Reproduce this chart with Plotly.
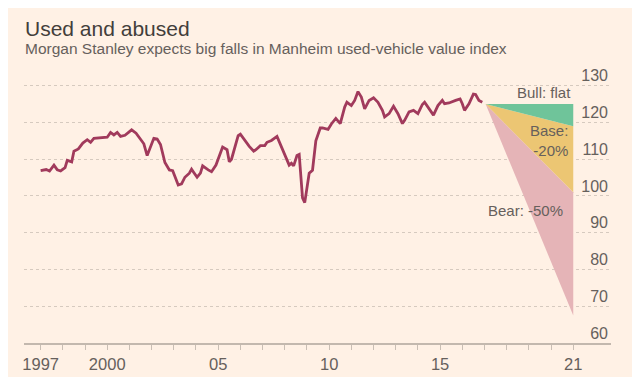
import plotly.graph_objects as go

# ---- data ----
index_years = [1997.0, 1997.25, 1997.4, 1997.6, 1997.75, 1997.9, 1998.1, 1998.2, 1998.4, 1998.5,
               1998.7, 1998.9, 1999.1, 1999.25, 1999.4, 1999.7, 2000.0, 2000.15, 2000.3, 2000.45,
               2000.6, 2000.8, 2001.1, 2001.3, 2001.55, 2001.65, 2001.8, 2001.95, 2002.1, 2002.25,
               2002.4, 2002.6, 2002.8, 2002.95, 2003.2, 2003.35, 2003.5, 2003.7, 2003.8, 2003.9,
               2004.05, 2004.2, 2004.3, 2004.55, 2004.7, 2004.9, 2005.2, 2005.4, 2005.5, 2005.6,
               2005.9, 2006.0, 2006.2, 2006.4, 2006.6, 2006.7, 2006.9, 2007.1, 2007.2, 2007.4,
               2007.65, 2007.8, 2008.0, 2008.2, 2008.3, 2008.4, 2008.55, 2008.65, 2008.8, 2008.9,
               2009.1, 2009.25, 2009.4, 2009.6, 2009.7, 2009.95, 2010.1, 2010.3, 2010.5, 2010.7,
               2010.8, 2011.0, 2011.15, 2011.3, 2011.45, 2011.6, 2011.8, 2012.0, 2012.2, 2012.4,
               2012.5, 2012.7, 2012.9, 2013.1, 2013.3, 2013.4, 2013.6, 2013.8, 2014.0, 2014.2,
               2014.3, 2014.5, 2014.7, 2014.9, 2015.1, 2015.2, 2015.4, 2015.7, 2015.9, 2016.0,
               2016.1, 2016.3, 2016.5, 2016.6, 2016.75, 2016.9]
index_values = [106.9, 107.2, 106.8, 108.4, 107.1, 106.8, 107.7, 109.7, 109.3, 112.2,
                112.8, 114.4, 115.3, 114.6, 115.7, 115.9, 116.0, 117.3, 116.6, 117.3,
                116.2, 116.5, 118.0, 117.1, 114.9, 114.2, 111.0, 113.1, 115.7, 115.5,
                114.0, 109.1, 107.1, 106.9, 103.0, 103.3, 105.1, 106.2, 107.3, 106.4,
                105.1, 106.2, 108.2, 107.1, 106.6, 108.4, 113.3, 112.6, 109.3, 110.0,
                116.4, 116.8, 115.1, 113.5, 112.2, 112.6, 113.7, 113.7, 114.6, 115.1,
                116.2, 114.0, 110.9, 108.4, 108.9, 108.2, 111.0, 111.3, 99.5, 98.2,
                106.2, 107.0, 115.0, 118.5, 118.5, 118.1, 119.6, 121.1, 119.7, 124.2,
                125.5, 124.6, 126.0, 128.4, 126.9, 123.7, 126.0, 126.7, 125.5, 123.3,
                121.5, 122.4, 124.4, 122.4, 119.7, 120.6, 122.9, 123.3, 122.4, 124.9,
                125.5, 123.7, 122.0, 124.6, 126.0, 125.1, 125.3, 126.0, 126.4, 125.1,
                123.3, 125.1, 127.7, 127.6, 126.0, 125.5]

# forecast fan: start point and end values (2021)
fan_start_year = 2017.05
fan_end_year = 2021
fan_start_value = 125.0
bull_end = [125.0, 119.0]      # top, bottom of bull wedge
base_end = [119.0, 101.0]
bear_end = [101.0, 67.5]

x_tick_years = list(range(1997, 2022))
x_tick_labels = {1997: "1997", 2000: "2000", 2005: "05", 2010: "10", 2015: "15", 2021: "21"}
y_ticks = [60, 70, 80, 90, 100, 110, 120, 130]

# ---- styling ----
BG = "#fff1e5"
TEXT = "#66605c"
FONT = "Liberation Sans, Arial, sans-serif"

fig = go.Figure()

def wedge(ends, color):
    xs = [fan_start_year, fan_end_year, fan_end_year, fan_start_year]
    ys = [fan_start_value, ends[0], ends[1], fan_start_value]
    fig.add_trace(go.Scatter(x=xs, y=ys, mode="lines", fill="toself", fillcolor=color,
                             line=dict(width=0, color=color), hoverinfo="skip", showlegend=False))

wedge(bear_end, "#e5b4b7")
wedge(base_end, "#ecc673")
wedge(bull_end, "#6fc49a")

fig.add_trace(go.Scatter(x=index_years, y=index_values, mode="lines",
                         line=dict(color="#a13a5c", width=2.8), showlegend=False))

# y range extended above 130 so the shifted top label stays inside the plot area
Y_MIN, Y_MAX = 60, 137
PX_PER_UNIT = 3.75
PLOT_BOTTOM, PLOT_LEFT, PLOT_W = 340.7, 16, 587
PLOT_TOP = PLOT_BOTTOM - (Y_MAX - Y_MIN) * PX_PER_UNIT
def py(px):
    return (PLOT_BOTTOM - px) / (PLOT_BOTTOM - PLOT_TOP)
def pxx(px):
    return (px - PLOT_LEFT) / PLOT_W

fig.update_layout(
    width=640, height=377,
    paper_bgcolor=BG, plot_bgcolor=BG,
    margin=dict(l=16, r=37, t=PLOT_TOP, b=377 - PLOT_BOTTOM),
    font=dict(family=FONT, color=TEXT),
    xaxis=dict(range=[1996.25, 2022.7], tickmode="array", tickvals=x_tick_years,
               ticktext=[x_tick_labels.get(y, "") for y in x_tick_years],
               ticks="outside", ticklen=5, tickwidth=1, tickcolor="#c9beb4",
               showline=True, linecolor="#c3b8ae", linewidth=1.5,
               showgrid=False, zeroline=False, tickfont=dict(size=16.5, color=TEXT),
               fixedrange=True),
    yaxis=dict(range=[Y_MIN, Y_MAX], tickvals=y_ticks, side="right",
               ticklabelposition="inside", ticklabelshift=-10,
               showgrid=True, gridcolor="#d6cabf", griddash="dot", gridwidth=1,
               zeroline=False, showline=False, ticks="",
               tickfont=dict(size=16, color=TEXT), fixedrange=True),
    annotations=[
        dict(text="Used and abused", xref="paper", yref="paper", x=pxx(15), y=py(20),
             xanchor="left", yanchor="middle", showarrow=False,
             font=dict(size=21, color="#433e3b")),
        dict(text="Morgan Stanley expects big falls in Manheim used-vehicle value index",
             xref="paper", yref="paper", x=pxx(15), y=py(40.5),
             xanchor="left", yanchor="middle", showarrow=False,
             font=dict(size=15.5, color=TEXT)),
        dict(text="Bull: flat", x=2021, y=128.2, xanchor="right", yanchor="middle",
             showarrow=False, font=dict(size=15, color=TEXT)),
        dict(text="Base:<br>-20%", x=2020.85, y=115.0, xanchor="right", yanchor="middle",
             align="right", showarrow=False, font=dict(size=15, color=TEXT)),
        dict(text="Bear: -50%", x=2020.62, y=96.0, xanchor="right", yanchor="middle",
             showarrow=False, font=dict(size=15, color=TEXT)),
    ],
)

fig.write_html("out.html")
